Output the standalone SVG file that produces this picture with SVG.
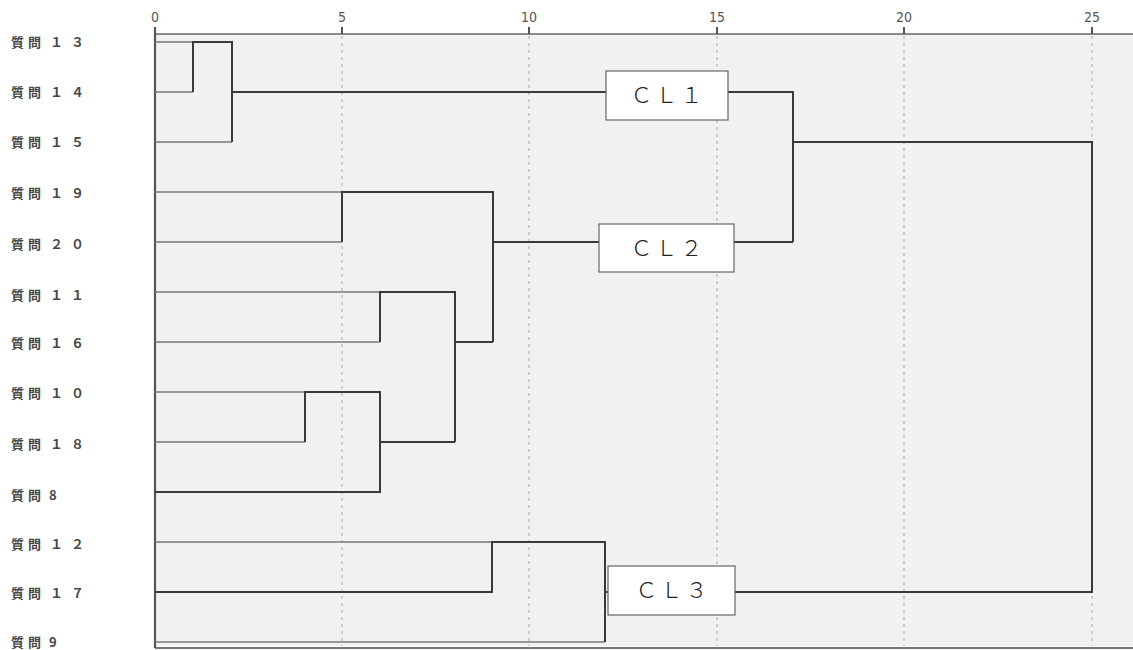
<svg xmlns="http://www.w3.org/2000/svg" width="1133" height="650" viewBox="0 0 1133 650">
<style>
.lbl{font-family:"Noto Sans CJK JP","Noto Sans",sans-serif;font-size:13px;fill:#484848;font-weight:bold}
.tick{font-family:"DejaVu Sans Condensed","Liberation Sans",sans-serif;font-size:14px;fill:#555;text-anchor:middle}
.grid{stroke:#cdcdcd;stroke-width:2;stroke-dasharray:3 4;fill:none}
.thin{stroke:#7a7a7a;stroke-width:1.5;fill:none}
.thick{stroke:#3a3a3a;stroke-width:2;fill:none}
.box{fill:#fff;stroke:#666;stroke-width:1.2}
.cl{font-family:"Noto Sans CJK JP","Noto Sans",sans-serif;font-size:22px;fill:#222;text-anchor:middle;font-weight:300;letter-spacing:3px}
</style>
<rect x="0" y="0" width="1133" height="650" fill="#fff"/>
<rect x="155" y="34" width="978" height="612" fill="#f0f1f3"/>
<g id="grid">
<line class="grid" x1="342" y1="36" x2="342" y2="646"/>
<line class="grid" x1="529" y1="36" x2="529" y2="646"/>
<line class="grid" x1="717" y1="36" x2="717" y2="646"/>
<line class="grid" x1="904" y1="36" x2="904" y2="646"/>
<line class="grid" x1="1092" y1="36" x2="1092" y2="646"/>
</g>
<g id="axis">
<line x1="155" y1="34" x2="1133" y2="34" stroke="#666" stroke-width="1.5"/>
<line x1="155" y1="27" x2="155" y2="648" stroke="#555" stroke-width="2.2"/>
<line x1="155" y1="648" x2="1133" y2="648" stroke="#444" stroke-width="1.6"/>
<g stroke="#444" stroke-width="1.8">
<line x1="342" y1="27" x2="342" y2="34"/>
<line x1="529" y1="27" x2="529" y2="34"/>
<line x1="717" y1="27" x2="717" y2="34"/>
<line x1="904" y1="27" x2="904" y2="34"/>
<line x1="1092" y1="27" x2="1092" y2="34"/>
</g>
<text class="tick" x="155" y="22">0</text>
<text class="tick" x="342" y="22">5</text>
<text class="tick" x="529" y="22">10</text>
<text class="tick" x="717" y="22">15</text>
<text class="tick" x="904" y="22">20</text>
<text class="tick" x="1092" y="22">25</text>
</g>
<g id="labels">
<g id="q13"><text class="lbl" x="11" y="47" letter-spacing="4">質問<tspan x="50">１</tspan><tspan x="71">３</tspan></text></g>
<g id="q14"><text class="lbl" x="11" y="97" letter-spacing="4">質問<tspan x="50">１</tspan><tspan x="71">４</tspan></text></g>
<g id="q15"><text class="lbl" x="11" y="147" letter-spacing="4">質問<tspan x="50">１</tspan><tspan x="71">５</tspan></text></g>
<g id="q19"><text class="lbl" x="11" y="198" letter-spacing="4">質問<tspan x="50">１</tspan><tspan x="71">９</tspan></text></g>
<g id="q20"><text class="lbl" x="11" y="249" letter-spacing="4">質問<tspan x="50">２</tspan><tspan x="71">０</tspan></text></g>
<g id="q11"><text class="lbl" x="11" y="300" letter-spacing="4">質問<tspan x="50">１</tspan><tspan x="71">１</tspan></text></g>
<g id="q16"><text class="lbl" x="11" y="348" letter-spacing="4">質問<tspan x="50">１</tspan><tspan x="71">６</tspan></text></g>
<g id="q10"><text class="lbl" x="11" y="398" letter-spacing="4">質問<tspan x="50">１</tspan><tspan x="71">０</tspan></text></g>
<g id="q18"><text class="lbl" x="11" y="449" letter-spacing="4">質問<tspan x="50">１</tspan><tspan x="71">８</tspan></text></g>
<g id="q8"><text class="lbl" x="11" y="500" letter-spacing="4">質問<tspan x="49">8</tspan></text></g>
<g id="q12"><text class="lbl" x="11" y="549" letter-spacing="4">質問<tspan x="50">１</tspan><tspan x="71">２</tspan></text></g>
<g id="q17"><text class="lbl" x="11" y="598" letter-spacing="4">質問<tspan x="50">１</tspan><tspan x="71">７</tspan></text></g>
<g id="q9"><text class="lbl" x="11" y="647" letter-spacing="4">質問<tspan x="49">9</tspan></text></g>
</g>
<g id="connectors">
<path class="thin" d="M155,42 H193 M155,92 H193 M155,142 H232"/>
<path class="thick" d="M193,92 V42 H232 V142 M232,92 H606 M728,92 H793 V242 M793,142 H1092 V592 H735"/>
<path class="thin" d="M155,192 H342 M155,242 H342 M155,292 H380 M155,342 H380 M155,392 H305 M155,442 H305 M155,542 H492 M155,642 H605"/>
<path class="thick" d="M342,242 V192 H493 V342 M493,242 H599 M734,242 H793"/>
<path class="thick" d="M380,342 V292 H455 V442 M455,342 H493"/>
<path class="thick" d="M305,442 V392 H380 V492 H155 M380,442 H455"/>
<path class="thick" d="M155,592 H492 V542 H605 V642 M605,592 H608"/>
</g>
<g id="cl1"><rect class="box" x="606" y="71" width="122" height="49"/><text class="cl" x="668" y="103">ＣＬ１</text></g>
<g id="cl2"><rect class="box" x="599" y="224" width="135" height="48"/><text class="cl" x="668" y="256">ＣＬ２</text></g>
<g id="cl3"><rect class="box" x="608" y="566" width="127" height="49"/><text class="cl" x="673" y="598">ＣＬ３</text></g>
</svg>
